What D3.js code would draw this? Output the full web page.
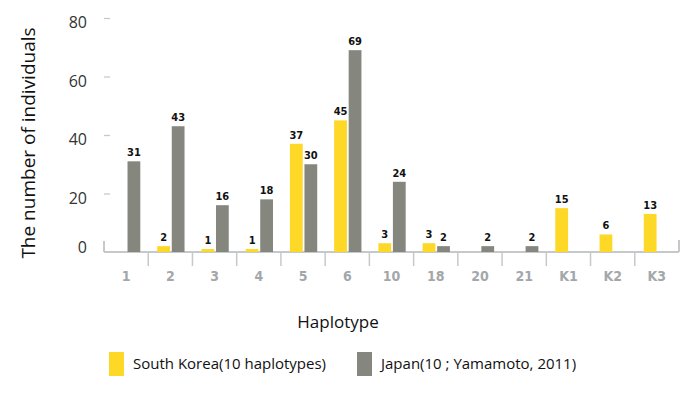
<!DOCTYPE html>
<html>
<head>
<meta charset="utf-8">
<script src="https://cdn.jsdelivr.net/npm/d3@7"></script>
<style>
  body { margin: 0; background: #fff; }
  .narrow { font-family: "DejaVu Sans Condensed", "DejaVu Sans", sans-serif; font-stretch: condensed; }
</style>
</head>
<body>
<script>
var w = 700;
var h = 394;

var categories = ["1", "2", "3", "4", "5", "6", "10", "18", "20", "21", "K1", "K2", "K3"];
var korea = [null, 2, 1, 1, 37, 45, 3, 3, null, null, 15, 6, 13];
var japan = [31, 43, 16, 18, 30, 69, 24, 2, 2, 2, null, null, null];
var yTicks = [0, 20, 40, 60, 80];
var seriesNames = ["South Korea(10 haplotypes)", "Japan(10 ; Yamamoto, 2011)"];

var yellow = "#fdd827";
var grey = "#85877f";
var axisGrey = "#c6c9cb";

var svg = d3.select("body")
            .append("svg")
            .attr("width", w)
            .attr("height", h);

var x = d3.scaleBand()
    .domain(categories)
    .range([104, 679]);

var xSub = d3.scaleBand()
    .domain(["korea", "japan"])
    .range([9, 36.3])
    .paddingInner(0.12);

var y = d3.scaleLinear()
    .domain([0, 80])
    .range([252, 18]);

// y axis ticks (no tick at 0)
var yAxis = svg.append("g")
    .attr("transform", "translate(110,0)")
    .call(d3.axisLeft(y).tickValues(yTicks).tickSize(6).tickPadding(17));
yAxis.select(".domain").remove();
yAxis.selectAll(".tick line")
    .attr("stroke", axisGrey)
    .attr("stroke-width", 1.3)
    .attr("opacity", function(d){ return d === 0 ? 0 : 1; });
yAxis.selectAll(".tick text")
    .attr("font-family", "Open Sans")
    .attr("font-size", "16px")
    .attr("fill", "#333")
    .attr("dy", function(d){ return d === 0 ? "0.0em" : "0.62em"; });

// x axis
var xAxis = svg.append("g")
    .attr("transform", "translate(0," + y(0) + ")");
xAxis.append("line")
    .attr("x1", 104).attr("x2", 679)
    .attr("y1", 0).attr("y2", 0)
    .attr("stroke", axisGrey).attr("stroke-width", 2);
xAxis.append("line")
    .attr("x1", 104).attr("x2", 104)
    .attr("y1", -11).attr("y2", 0)
    .attr("stroke", axisGrey).attr("stroke-width", 2);
xAxis.append("line")
    .attr("x1", 679).attr("x2", 679)
    .attr("y1", -12).attr("y2", 0)
    .attr("stroke", axisGrey).attr("stroke-width", 2);
xAxis.selectAll("line.div")
    .data(categories.slice(1))
    .enter()
    .append("line")
    .attr("class", "div")
    .attr("x1", function(d){ return x(d); })
    .attr("x2", function(d){ return x(d); })
    .attr("y1", 0).attr("y2", 14)
    .attr("stroke", axisGrey).attr("stroke-width", 1.5);
xAxis.selectAll("text")
    .data(categories)
    .enter()
    .append("text")
    .attr("class", "narrow")
    .text(function(d){ return d; })
    .attr("x", function(d){ return x(d) + x.bandwidth() / 2; })
    .attr("y", 29)
    .attr("font-weight", "bold")
    .attr("font-size", "14px")
    .attr("fill", "#a3a7aa")
    .attr("text-anchor", "middle");

// bars
function drawSeries(values, key, colour) {
    var data = categories.map(function(c, i){ return {cat: c, v: values[i]}; })
        .filter(function(d){ return d.v !== null; });
    svg.selectAll("rect." + key)
        .data(data)
        .enter()
        .append("rect")
        .attr("class", key)
        .attr("x", function(d){ return x(d.cat) + xSub(key); })
        .attr("y", function(d){ return y(d.v); })
        .attr("width", xSub.bandwidth())
        .attr("height", function(d){ return y(0) - y(d.v); })
        .attr("fill", colour);
    svg.selectAll("text." + key)
        .data(data)
        .enter()
        .append("text")
        .attr("class", key + " narrow")
        .text(function(d){ return d.v; })
        .attr("x", function(d){ return x(d.cat) + xSub(key) + xSub.bandwidth() / 2; })
        .attr("y", function(d){ return y(d.v) - 5; })
        .attr("font-weight", "bold")
        .attr("font-size", "11px")
        .attr("fill", "#111")
        .attr("text-anchor", "middle");
}
drawSeries(korea, "korea", yellow);
drawSeries(japan, "japan", grey);

// axis titles
svg.append("text")
    .text("The number of individuals")
    .attr("transform", "translate(35,143) rotate(-90)")
    .attr("font-family", "Open Sans")
    .attr("font-size", "19px")
    .attr("fill", "#111")
    .attr("text-anchor", "middle");

svg.append("text")
    .text("Haplotype")
    .attr("x", 338)
    .attr("y", 328)
    .attr("font-family", "Open Sans")
    .attr("font-size", "17px")
    .attr("fill", "#111")
    .attr("text-anchor", "middle");

// legend
var legendX = [109, 357];
var legendColours = [yellow, grey];
var legend = svg.selectAll("g.legend")
    .data(seriesNames)
    .enter()
    .append("g")
    .attr("class", "legend")
    .attr("transform", function(d, i){ return "translate(" + legendX[i] + ",352)"; });
legend.append("rect")
    .attr("width", 15)
    .attr("height", 24)
    .attr("fill", function(d, i){ return legendColours[i]; });
legend.append("text")
    .text(function(d){ return d; })
    .attr("x", 24)
    .attr("y", 17)
    .attr("font-family", "Open Sans")
    .attr("font-size", "15px")
    .attr("fill", "#111");
</script>
</body>
</html>
